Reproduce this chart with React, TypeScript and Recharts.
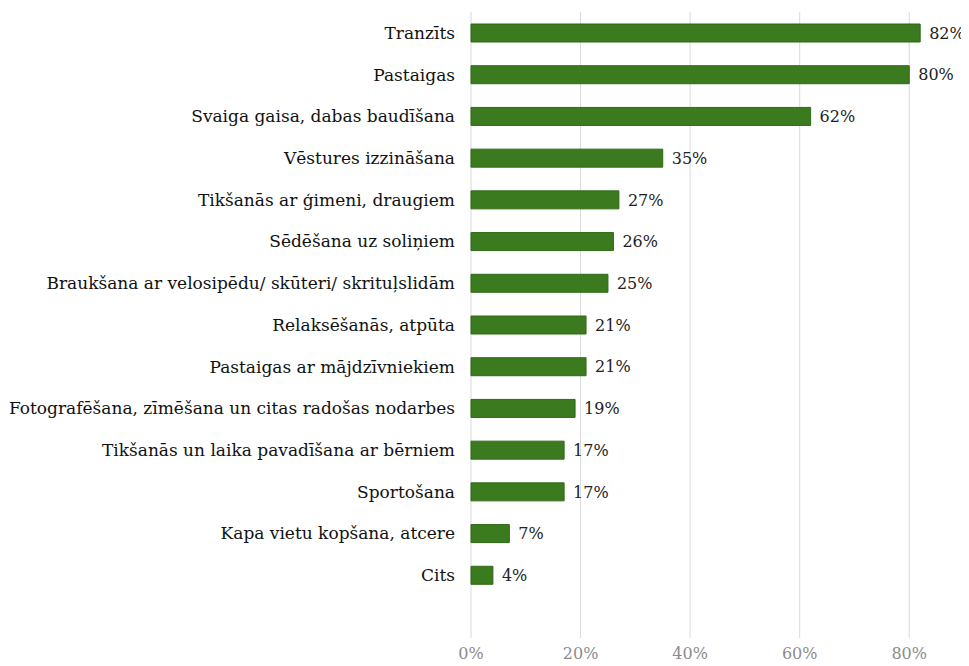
import { BarChart, Bar, XAxis, YAxis, CartesianGrid, LabelList } from 'recharts'

const categories = [
  'Tranzīts',
  'Pastaigas',
  'Svaiga gaisa, dabas baudīšana',
  'Vēstures izzināšana',
  'Tikšanās ar ģimeni, draugiem',
  'Sēdēšana uz soliņiem',
  'Braukšana ar velosipēdu/ skūteri/ skrituļslidām',
  'Relaksēšanās, atpūta',
  'Pastaigas ar mājdzīvniekiem',
  'Fotografēšana, zīmēšana un citas radošas nodarbes',
  'Tikšanās un laika pavadīšana ar bērniem',
  'Sportošana',
  'Kapa vietu kopšana, atcere',
  'Cits',
]
const shares = [82, 80, 62, 35, 27, 26, 25, 21, 21, 19, 17, 17, 7, 4]
const xTicks = [0, 20, 40, 60, 80]

const data = categories.map((name, i) => ({ name, value: shares[i] }))

// Liberation Serif isn't picked up here, DejaVu Serif is the closest serif
const FONT = 'DejaVu Serif'

export default function App() {
  return (
    <div style={{ width: 961, height: 658, background: '#fff' }}>
      <BarChart
        width={961}
        height={658}
        data={data}
        layout="vertical"
        margin={{ top: 4, right: 5, bottom: 0, left: 0 }}
        barCategoryGap={0}
      >
        <CartesianGrid horizontal={false} stroke="#d9d9d9" />
        <XAxis
          type="number"
          domain={[0, 90]}
          ticks={xTicks}
          tickFormatter={(v) => `${v}%`}
          axisLine={false}
          tickLine={false}
          tickSize={0}
          tickMargin={10}
          height={28}
          tick={{ fill: '#8c8c8c', fontSize: 16, fontFamily: FONT }}
        />
        <YAxis
          type="category"
          dataKey="name"
          width={463}
          axisLine={false}
          tickLine={false}
          tickSize={0}
          tickMargin={16}
          interval={0}
          padding={{ top: 0, bottom: 42 }}
          tick={{ fill: '#111', fontSize: 17, fontFamily: FONT }}
        />
        <Bar
          dataKey="value"
          fill="#3b7a1e"
          stroke="#2f6a16"
          strokeWidth={1}
          barSize={18}
          isAnimationActive={false}
        >
          <LabelList
            dataKey="value"
            position="right"
            offset={9}
            formatter={(v: number) => `${v}%`}
            fill="#222"
            fontSize={16}
            fontFamily={FONT}
          />
        </Bar>
      </BarChart>
    </div>
  )
}
